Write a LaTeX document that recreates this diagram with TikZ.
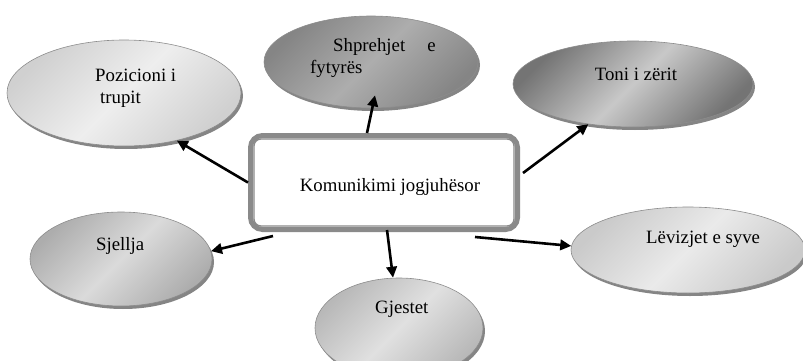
\documentclass[tikz,border=0pt]{standalone}
\usepackage{fontspec}
\setmainfont{Liberation Serif}
\usetikzlibrary{shapes.geometric,shadows,arrows.meta}
\definecolor{posA}{HTML}{D0D0D0}\definecolor{posB}{HTML}{EEEEEE}
\definecolor{shpA}{HTML}{858585}\definecolor{shpB}{HTML}{ADADAD}
\definecolor{tonA}{HTML}{747474}\definecolor{tonB}{HTML}{C8C8C8}
\definecolor{sjeA}{HTML}{ADADAD}\definecolor{sjeB}{HTML}{DADADA}
\definecolor{gjeA}{HTML}{B8B8B8}\definecolor{gjeB}{HTML}{E0E0E0}
\definecolor{levA}{HTML}{CACACA}\definecolor{levB}{HTML}{EAEAEA}
\definecolor{boxline}{HTML}{8A8A8A}
\tikzset{
  blob/.style n args={2}{ellipse, inner sep=0pt, draw=black!45, line width=0.6pt,
    left color=#1, right color=#1, middle color=#2, shading angle=45,
    drop shadow={shadow xshift=2pt, shadow yshift=-3pt, fill=black!48, opacity=1}},
  lbl/.style={font=\fontsize{18.8}{22}\selectfont, inner sep=0pt, text=black},
  conn/.style={line width=2.6pt, -{Triangle[length=11pt,width=10.5pt]}}
}
\begin{document}
\begin{tikzpicture}[x=1pt,y=-1pt]
\useasboundingbox (0,0) rectangle (803,361);
% ellipses
\node (pos) [blob={posA}{posB}, minimum width=234pt, minimum height=106pt] at (124,93) {};
\node (shp) [blob={shpA}{shpB}, minimum width=214pt, minimum height=92pt] at (371,62) {};
\node (ton) [blob={tonA}{tonB}, minimum width=240pt, minimum height=86pt] at (633,84) {};
\node (sje) [blob={sjeA}{sjeB}, minimum width=182pt, minimum height=94pt] at (121,259) {};
\node (gje) [blob={gjeA}{gjeB}, minimum width=168pt, minimum height=100pt] at (399,328) {};
\node (lev) [blob={levA}{levB}, minimum width=234pt, minimum height=86pt] at (688,250) {};
% central box
\node (box) [draw=boxline, line width=5pt, rounded corners=12pt, fill=white,
  minimum width=267pt, minimum height=94pt] at (384,182.5) {};
\draw[draw=boxline, line width=1.3pt, rounded corners=7pt]
  ([shift={(6pt,-6pt)}]box.north west) rectangle ([shift={(-6pt,6pt)}]box.south east);
% texts
\node (tpos) [lbl, anchor=west, align=left] at (95,88) {Pozicioni i\\\hspace{5pt}trupit};
\node (tshp) [lbl, anchor=west, align=left] at (310,58) {\hspace{23pt}Shprehjet\hspace{22pt}e\\fytyrës};
\node (tton) [lbl] at (636,74) {Toni i zërit};
\node (tbox) [lbl] at (390,187) {Komunikimi jogjuhësor};
\node (tsje) [lbl, anchor=west] at (96,246) {Sjellja};
\node (tgje) [lbl, anchor=west] at (375,309) {Gjestet};
\node (tlev) [lbl, anchor=west] at (646,239) {Lëvizjet e syve};
% connectors
\draw[conn] (box.west) -- (pos.-42);
\draw[conn] ([xshift=-17pt]box.north) -- ([xshift=4pt,yshift=13pt]shp.south);
\draw[conn] ([xshift=3pt,yshift=9.5pt]box.east) -- (ton.-138);
\draw[conn] ([xshift=-111pt,yshift=-4pt]box.south) -- (sje.5);
\draw[conn] ([xshift=3pt,yshift=2pt]box.south) -- ([xshift=-6pt]gje.north);
\draw[conn] ([xshift=91pt,yshift=-5pt]box.south) -- (lev.178);
\end{tikzpicture}
\end{document}
